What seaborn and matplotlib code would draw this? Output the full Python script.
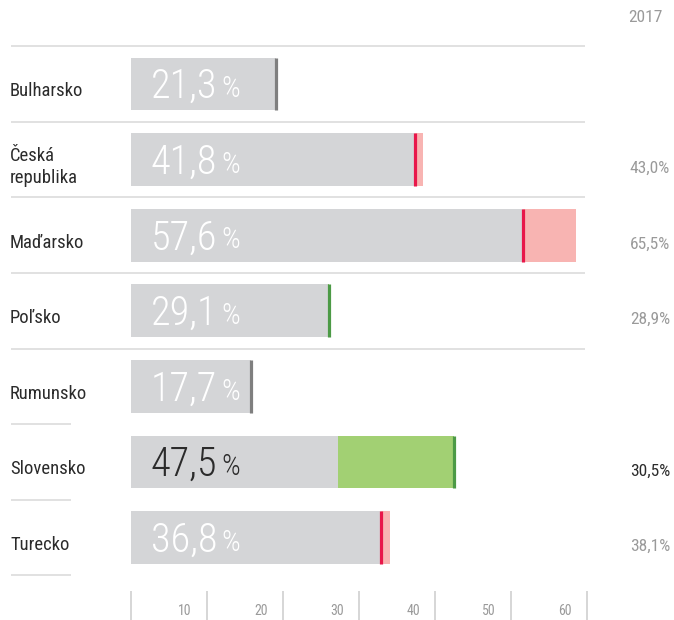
import matplotlib
matplotlib.use("Agg")
import matplotlib.pyplot as plt
import matplotlib.transforms as mtransforms
import seaborn as sns
import pandas as pd

# udaje
zeme = ["Bulharsko", "Česká\nrepublika", "Maďarsko", "Poľsko", "Rumunsko", "Slovensko", "Turecko"]
hodnoty = [21.3, 41.8, 57.6, 29.1, 17.7, 47.5, 36.8]
hodnoty_2017 = [None, 43.0, 65.5, 28.9, None, 30.5, 38.1]
osa_hodnoty = [10, 20, 30, 40, 50, 60]
zvyraznena = "Slovensko"

SIVA = "#d4d5d7"
RUZOVA = "#f8b4b2"
CERVENA = "#e8174a"
ZELENA = "#a2d073"
TMAVOZELENA = "#4c9a46"
TMAVOSIVA = "#7f7f7f"
CIARA = "#dcdcdc"
TEXT_SIVY = "#9a9a9a"
TEXT_TMAVY = "#2b2b2b"

sns.set_style("white")
plt.rcParams["font.family"] = ["Roboto Condensed", "DejaVu Sans"]
plt.rcParams["font.stretch"] = "condensed"

df = pd.DataFrame({"zeme": zeme, "hodnota": hodnoty, "rok2017": hodnoty_2017})
df["rok2017"] = df["rok2017"].astype(float)
df["spodok"] = df[["hodnota", "rok2017"]].min(axis=1)
df["vrch"] = df[["hodnota", "rok2017"]].max(axis=1)

farby_useku = {}
farby_ciar = {}
for _, r in df.iterrows():
    if pd.isna(r["rok2017"]):
        farby_useku[r["zeme"]] = SIVA
        farby_ciar[r["zeme"]] = TMAVOSIVA
    elif r["rok2017"] > r["hodnota"]:
        farby_useku[r["zeme"]] = RUZOVA
        farby_ciar[r["zeme"]] = CERVENA
    else:
        farby_useku[r["zeme"]] = ZELENA
        farby_ciar[r["zeme"]] = TMAVOZELENA

W, H = 674, 620
X0, PX = 131, 6.8          # zaciatok stlpcov a px na jednotku
Y0, KROK = 84, 75.6        # stred prveho riadku a vyska riadku

fig = plt.figure(figsize=(W / 100, H / 100), dpi=100)
ax = fig.add_axes([0, 0, 1, 1])

sns.barplot(data=df, x="vrch", y="zeme", hue="zeme", palette=farby_useku,
            width=0.7, saturation=1, errorbar=None, legend=False, linewidth=0, ax=ax)
sns.barplot(data=df, x="spodok", y="zeme", color=SIVA,
            width=0.7, saturation=1, errorbar=None, linewidth=0, ax=ax)

ax.set_xlim(-X0 / PX, (W - X0) / PX)
ax.set_ylim((H - Y0) / KROK, -Y0 / KROK)
ax.axis("off")

def px(x):
    return (x - X0) / PX

n = len(zeme)
for i, r in df.iterrows():
    ax.vlines(r["hodnota"], i - 0.35, i + 0.35, color=farby_ciar[r["zeme"]], lw=2.3)

# oddelovacie ciary
for k in range(n + 1):
    koniec = 585 if k <= 4 else 71
    ax.hlines(k - 0.5, px(11), px(koniec), color=CIARA, lw=1.2)

# popisky v stlpcoch
for i, r in df.iterrows():
    farba = TEXT_TMAVY if r["zeme"] == zvyraznena else "white"
    tr = mtransforms.offset_copy(ax.transData, fig=fig, x=0, y=-10.2, units="points")
    t = ax.text(px(151), i, f"{r['hodnota']:.1f}".replace(".", ","), transform=tr,
                fontsize=29, fontweight="light", color=farba, va="baseline", ha="left")
    ax.annotate("%", xy=(1, 0), xycoords=t, xytext=(3, 2.2), textcoords="offset points",
                fontsize=21, fontweight="light", color=farba, va="bottom", ha="left")

    tr_l = mtransforms.offset_copy(ax.transData, fig=fig, x=0, y=-7.5, units="dots")
    ax.text(px(10), i, r["zeme"], transform=tr_l, fontsize=13.4, color=TEXT_TMAVY,
            va="center", ha="left", linespacing=1.3)

    if not pd.isna(r["rok2017"]):
        tr_r = mtransforms.offset_copy(ax.transData, fig=fig, x=0, y=-9, units="dots")
        ax.text(px(670), i, f"{r['rok2017']:.1f}%".replace(".", ","), transform=tr_r,
                fontsize=12.5,
                color=TEXT_TMAVY if r["zeme"] == zvyraznena else TEXT_SIVY,
                va="center", ha="right")

fig.text(663 / W, 1 - 18 / H, "2017", fontsize=12.5, color=TEXT_SIVY,
         ha="right", va="center")

# spodna os
ax2 = ax.twiny()
ax2.set_xlim(-X0 / 7.6, (W - X0) / 7.6)
ax2.axis("off")
blend = mtransforms.blended_transform_factory(ax2.transData, ax2.transAxes)
ax2.vlines([0] + osa_hodnoty, 0, 1 - 591 / H, color="#d0d0d0", lw=1.2, transform=blend)
tr_t = mtransforms.offset_copy(blend, fig=fig, x=-22, y=0, units="dots")
for v in osa_hodnoty:
    ax2.text(v, 1 - 611 / H, str(v), transform=tr_t, fontsize=10,
             color=TEXT_SIVY, ha="center", va="center")

fig.savefig("out.png", dpi=100)
